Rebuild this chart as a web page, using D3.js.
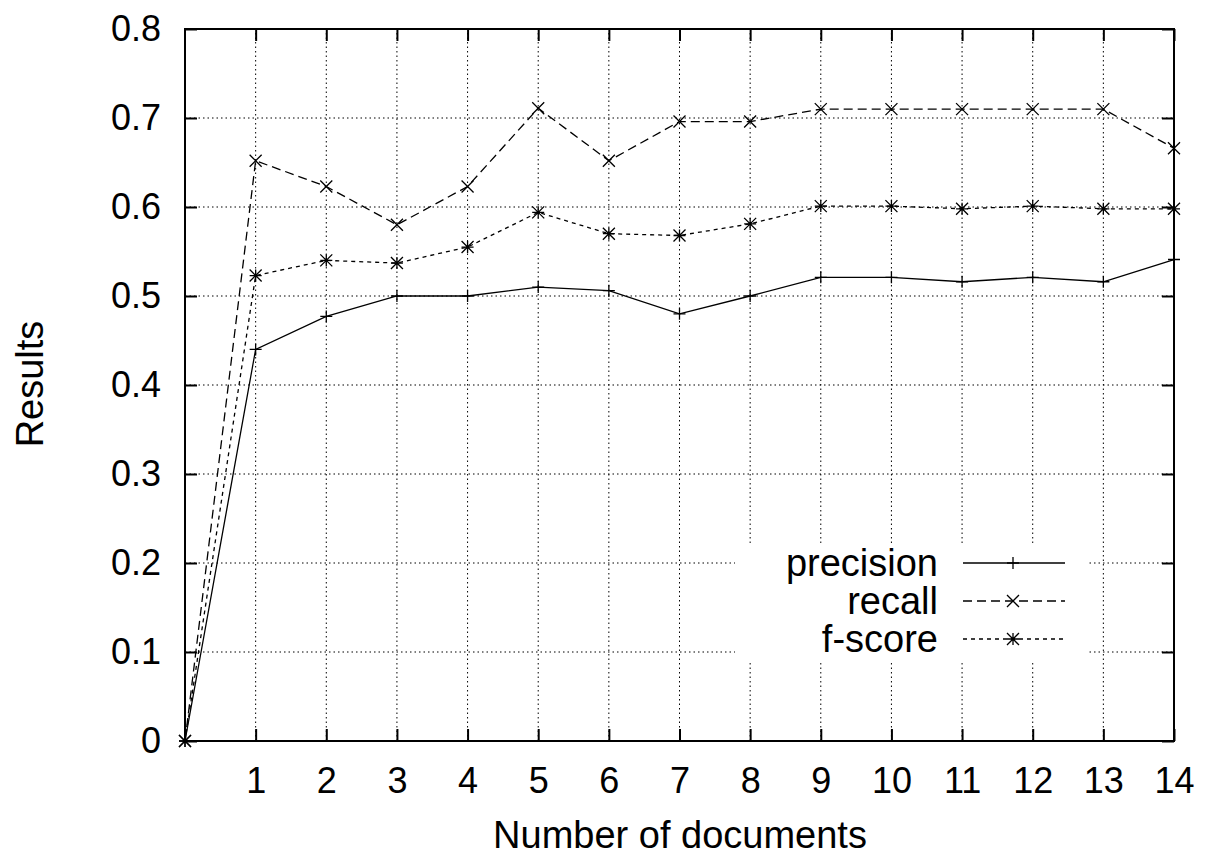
<!DOCTYPE html>
<html>
<head>
<meta charset="utf-8">
<script src="https://cdn.jsdelivr.net/npm/d3@7"></script>
<style>
  body { margin: 0; background: #fff; }
  svg { display: block; font-family: "Liberation Sans", Arial, sans-serif; }
</style>
</head>
<body>
<svg id="chart" width="1207" height="857"></svg>
<script>
// documents on x
const docs = [0, 1, 2, 3, 4, 5, 6, 7, 8, 9, 10, 11, 12, 13, 14]
const xTicks = [1, 2, 3, 4, 5, 6, 7, 8, 9, 10, 11, 12, 13, 14]
const yTicks = [0, 0.1, 0.2, 0.3, 0.4, 0.5, 0.6, 0.7, 0.8]

const precision = [0, 0.44, 0.477, 0.5, 0.5, 0.51, 0.506, 0.48, 0.5, 0.521, 0.521, 0.516, 0.521, 0.516, 0.541]
const recall = [0, 0.652, 0.623, 0.58, 0.623, 0.711, 0.652, 0.696, 0.696, 0.71, 0.71, 0.71, 0.71, 0.71, 0.666]
const fscore = [0, 0.523, 0.54, 0.537, 0.555, 0.594, 0.57, 0.568, 0.581, 0.601, 0.601, 0.598, 0.601, 0.598, 0.598]

const series = [
  { name: 'precision', values: precision, dash: null, marker: 'plus' },
  { name: 'recall', values: recall, dash: '9,5', marker: 'cross' },
  { name: 'f-score', values: fscore, dash: '4,4', marker: 'star' }
]

const margin = { top: 29, right: 33, bottom: 116, left: 185 }
const width = 1207
const height = 857

const x = d3.scaleLinear()
  .domain([0, 14])
  .range([margin.left, width - margin.right])

const y = d3.scaleLinear()
  .domain([0, 0.8])
  .range([height - margin.bottom, margin.top])

const svg = d3.select('#chart')
const x0 = x.range()[0], x1 = x.range()[1]
const y0 = y.range()[0], y1 = y.range()[1]

// grid
const grid = svg.append('g')
  .attr('stroke', '#000')
  .attr('stroke-width', 1)
  .attr('stroke-dasharray', '1.5,3')
grid.selectAll('line.v')
  .data(xTicks.slice(0, -1))
  .enter().append('line')
  .attr('x1', d => x(d)).attr('x2', d => x(d))
  .attr('y1', y0).attr('y2', y1)
grid.selectAll('line.h')
  .data(yTicks.slice(1, -1))
  .enter().append('line')
  .attr('x1', x0).attr('x2', x1)
  .attr('y1', d => y(d)).attr('y2', d => y(d))

// legend background covers the grid
svg.append('rect')
  .attr('x', 735).attr('y', 543)
  .attr('width', 352).attr('height', 119)
  .attr('fill', '#fff')

// axes, ticks inward and mirrored
const tickLen = 12
const addAxis = (axis, transform) => svg.append('g')
  .attr('transform', transform)
  .call(axis)
  .call(g => g.select('.domain').remove())
  .call(g => g.selectAll('line').attr('stroke-width', 2))

addAxis(d3.axisBottom(x).tickValues(xTicks).tickSize(-tickLen).tickPadding(26)
  .tickFormat(d3.format('d')), `translate(0,${y0})`)
  .selectAll('text').attr('font-size', 36).attr('font-family', 'Liberation Sans, Arial, sans-serif')
addAxis(d3.axisTop(x).tickValues(xTicks).tickSize(-tickLen).tickFormat(''), `translate(0,${y1})`)
addAxis(d3.axisLeft(y).tickValues(yTicks).tickSize(-tickLen).tickPadding(24)
  .tickFormat(d => d === 0 ? '0' : d3.format('.1f')(d)), `translate(${x0},0)`)
  .selectAll('text').attr('font-size', 36).attr('font-family', 'Liberation Sans, Arial, sans-serif')
addAxis(d3.axisRight(y).tickValues(yTicks).tickSize(-tickLen).tickFormat(''), `translate(${x1},0)`)

svg.append('rect')
  .attr('x', x0).attr('y', y1)
  .attr('width', x1 - x0).attr('height', y0 - y1)
  .attr('fill', 'none')
  .attr('stroke', '#000')
  .attr('stroke-width', 2)

// markers
const markerPath = (type, s) => {
  const plus = `M${-s},0H${s}M0,${-s}V${s}`
  const cross = `M${-s},${-s}L${s},${s}M${-s},${s}L${s},${-s}`
  if (type === 'plus') return plus
  if (type === 'cross') return cross
  return plus + cross
}

const line = d3.line()
  .x((d, i) => x(docs[i]))
  .y(d => y(d))

series.forEach(s => {
  const g = svg.append('g')
  g.append('path')
    .datum(s.values)
    .attr('d', line)
    .attr('fill', 'none')
    .attr('stroke', '#000')
    .attr('stroke-width', 1.3)
    .attr('stroke-dasharray', s.dash)
  g.selectAll('path.m')
    .data(s.values)
    .enter().append('path')
    .attr('transform', (d, i) => `translate(${x(docs[i])},${y(d)})`)
    .attr('d', markerPath(s.marker, 6))
    .attr('stroke', '#000')
    .attr('stroke-width', 1.3)
})

// legend
const legend = svg.append('g')
series.forEach((s, i) => {
  const ly = 563 + i * 38
  legend.append('text')
    .text(s.name)
    .attr('x', 938).attr('y', ly)
    .attr('dy', '0.35em')
    .attr('text-anchor', 'end')
    .attr('font-size', 38)
  legend.append('line')
    .attr('x1', 963).attr('x2', 1065)
    .attr('y1', ly).attr('y2', ly)
    .attr('stroke', '#000')
    .attr('stroke-width', 1.3)
    .attr('stroke-dasharray', s.dash)
  legend.append('path')
    .attr('transform', `translate(1013,${ly})`)
    .attr('d', markerPath(s.marker, 6))
    .attr('stroke', '#000')
    .attr('stroke-width', 1.3)
})

// axis titles
svg.append('text')
  .text('Number of documents')
  .attr('x', 680)
  .attr('y', 848)
  .attr('text-anchor', 'middle')
  .attr('font-size', 38)
svg.append('text')
  .text('Results')
  .attr('transform', `translate(43,384) rotate(-90)`)
  .attr('text-anchor', 'middle')
  .attr('font-size', 38)
</script>
</body>
</html>
